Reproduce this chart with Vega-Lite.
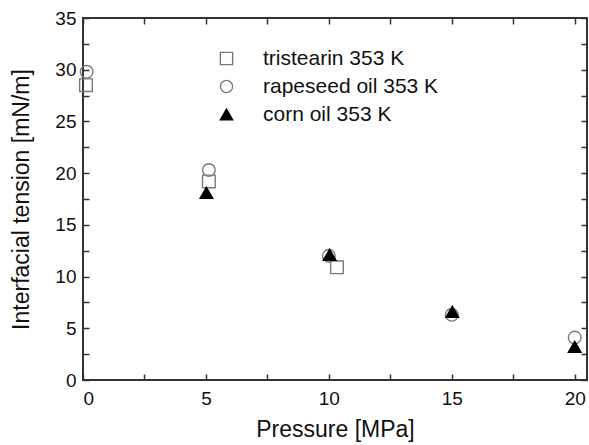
{
  "$schema": "https://vega.github.io/schema/vega-lite/v6.json",
  "width": 504,
  "height": 362,
  "autosize": {"type": "none"},
  "padding": {"left": 83, "top": 18, "right": 2, "bottom": 65},
  "background": "white",
  "config": {
    "view": {"stroke": "#333333", "strokeWidth": 2},
    "font": "Liberation Sans",
    "axis": {
      "domain": false,
      "grid": false,
      "tickColor": "#333333",
      "tickWidth": 1.5,
      "tickSize": -6,
      "labelFont": "Liberation Sans",
      "labelFontSize": 19,
      "labelColor": "#111111",
      "titleFont": "Liberation Sans",
      "titleFontSize": 23,
      "titleFontWeight": "normal",
      "titleColor": "#111111"
    },
    "legend": {
      "labelFont": "Liberation Sans",
      "labelFontSize": 21,
      "labelColor": "#111111",
      "labelLimit": 0,
      "padding": 0
    }
  },
  "data": {
    "values": [
      {"series": "tristearin 353 K", "pressure": 0.12, "tension": 28.5},
      {"series": "tristearin 353 K", "pressure": 5.12, "tension": 19.2},
      {"series": "tristearin 353 K", "pressure": 10.33, "tension": 10.9},
      {"series": "rapeseed oil 353 K", "pressure": 0.15, "tension": 29.8},
      {"series": "rapeseed oil 353 K", "pressure": 5.12, "tension": 20.3},
      {"series": "rapeseed oil 353 K", "pressure": 10.0, "tension": 12.0},
      {"series": "rapeseed oil 353 K", "pressure": 15.0, "tension": 6.3},
      {"series": "rapeseed oil 353 K", "pressure": 20.0, "tension": 4.1},
      {"series": "corn oil 353 K", "pressure": 5.02, "tension": 18.1},
      {"series": "corn oil 353 K", "pressure": 10.03, "tension": 12.1},
      {"series": "corn oil 353 K", "pressure": 15.02, "tension": 6.6},
      {"series": "corn oil 353 K", "pressure": 20.0, "tension": 3.2}
    ]
  },
  "layer": [
    {
      "mark": {"type": "point", "size": 160, "strokeWidth": 1.4, "opacity": 1},
      "encoding": {
        "x": {
          "field": "pressure", "type": "quantitative",
          "scale": {"domain": [0, 20.5], "nice": false, "zero": false},
          "axis": {
            "orient": "bottom",
            "title": "Pressure [MPa]",
            "values": [0, 2.5, 5, 7.5, 10, 12.5, 15, 17.5, 20],
            "labelExpr": "datum.value % 5 == 0 ? datum.label : ''",
            "labelPadding": 15,
            "titlePadding": 10
          }
        },
        "y": {
          "field": "tension", "type": "quantitative",
          "scale": {"domain": [0, 35], "nice": false},
          "axis": {
            "orient": "left",
            "title": "Interfacial tension [mN/m]",
            "values": [0, 2.5, 5, 7.5, 10, 12.5, 15, 17.5, 20, 22.5, 25, 27.5, 30, 32.5, 35],
            "labelExpr": "datum.value % 5 == 0 ? datum.label : ''",
            "labelPadding": 13,
            "titlePadding": 21
          }
        },
        "shape": {
          "field": "series", "type": "nominal",
          "scale": {
            "domain": ["tristearin 353 K", "rapeseed oil 353 K", "corn oil 353 K"],
            "range": ["square", "circle", "triangle-up"]
          },
          "legend": {
            "title": null,
            "orient": "none",
            "legendX": 133,
            "legendY": 30,
            "rowPadding": 6,
            "labelOffset": 26,
            "symbolSize": 150,
            "symbolStrokeWidth": 1.4
          }
        },
        "stroke": {
          "field": "series", "type": "nominal",
          "scale": {
            "domain": ["tristearin 353 K", "rapeseed oil 353 K", "corn oil 353 K"],
            "range": ["#7a7a7a", "#7a7a7a", "#000000"]
          },
          "legend": null
        },
        "fill": {
          "field": "series", "type": "nominal",
          "scale": {
            "domain": ["tristearin 353 K", "rapeseed oil 353 K", "corn oil 353 K"],
            "range": ["transparent", "transparent", "#000000"]
          },
          "legend": null
        }
      }
    },
    {
      "mark": {"type": "point", "opacity": 0},
      "encoding": {
        "x": {
          "field": "pressure", "type": "quantitative",
          "axis": {
            "orient": "top",
            "title": null,
            "labels": false,
            "values": [0, 2.5, 5, 7.5, 10, 12.5, 15, 17.5, 20]
          }
        },
        "y": {
          "field": "tension", "type": "quantitative",
          "axis": {
            "orient": "right",
            "title": null,
            "labels": false,
            "values": [0, 2.5, 5, 7.5, 10, 12.5, 15, 17.5, 20, 22.5, 25, 27.5, 30, 32.5, 35]
          }
        }
      }
    }
  ],
  "resolve": {"axis": {"x": "independent", "y": "independent"}}
}
